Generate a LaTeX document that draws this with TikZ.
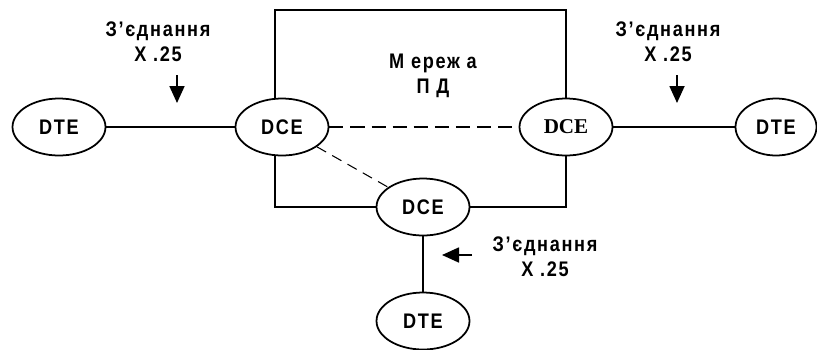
\documentclass[tikz,border=0pt]{standalone}
\usepackage{fontspec}
\setmainfont{Liberation Sans}
\newfontfamily\lbl[LetterSpace=8, FakeStretch=0.86]{Liberation Sans}
\newfontfamily\serifbold{Liberation Serif}
\usetikzlibrary{arrows.meta,shapes.geometric}

\begin{document}
\begin{tikzpicture}[x=0.02cm, y=-0.02cm, line width=1pt,
    dev/.style={ellipse, draw, fill=white, inner sep=0pt,
        minimum width=1.86cm, minimum height=1.14cm,
        font=\fontsize{12}{14}\selectfont\lbl\bfseries},
    txt/.style={align=center, inner sep=0pt,
        font=\fontsize{12}{14.5}\selectfont\lbl\bfseries},
    ptr/.style={-{Triangle[length=0.34cm, width=0.3cm]}}]
    \useasboundingbox (0,0) rectangle (817,349);

    % mereza
    \draw (275,10) rectangle (566,207);
    \node[txt] (net) at (433,76) {М ереж а\\П Д};

    % vuzly
    \node[dev] (dteL) at (59,127) {DTE};
    \node[dev] (dceL) at (282,127) {DCE};
    \node[dev, font=\fontsize{12}{14}\selectfont\serifbold\bfseries] (dceR) at (566,127) {DCE};
    \node[dev, minimum width=1.62cm] (dteR) at (776,127) {DTE};
    \node[dev] (dceB) at (423,207) {DCE};
    \node[dev] (dteB) at (423,321) {DTE};

    % spoluky
    \draw (dteL) -- (dceL);
    \draw (dceR) -- (dteR);
    \draw (dceB) -- (dteB);
    \draw[dash pattern=on 8pt off 4pt] (dceL) -- (dceR);
    \draw[line width=0.6pt, dash pattern=on 6pt off 4pt] (dceL) -- (dceB);

    % X.25
    \node[txt] (x25L) at (158,42) {З’єднання\\Х .25};
    \coordinate (aL) at (177,75);
    \draw[ptr] (aL) -- ++(0,28);
    \node[txt] (x25R) at (668,42) {З’єднання\\Х .25};
    \coordinate (aR) at (677,75);
    \draw[ptr] (aR) -- ++(0,28);
    \node[txt] (x25B) at (545,257) {З’єднання\\Х .25};
    \coordinate (aB) at (472,255);
    \draw[ptr] (aB) -- ++(-30,0);
\end{tikzpicture}
\end{document}
